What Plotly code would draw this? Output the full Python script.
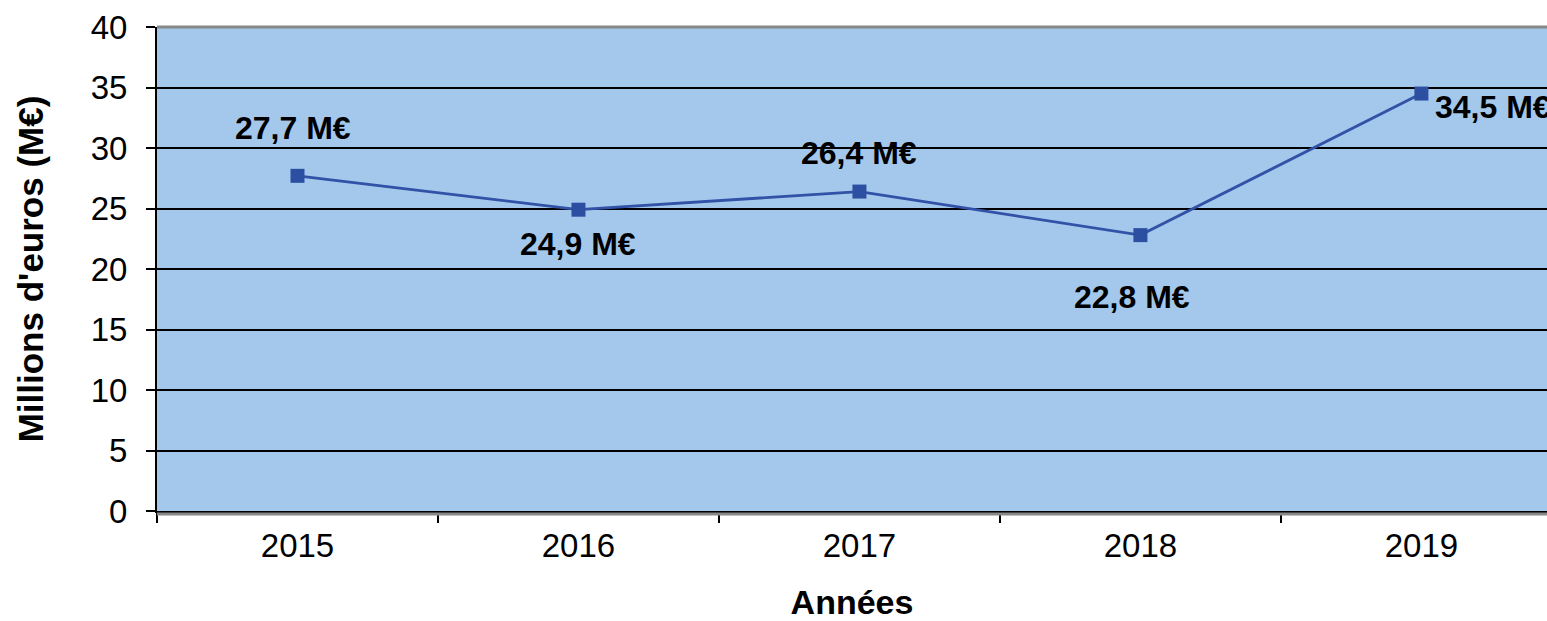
import plotly.graph_objects as go

years = ["2015", "2016", "2017", "2018", "2019"]
values = [27.7, 24.9, 26.4, 22.8, 34.5]
labels = ["27,7 M€", "24,9 M€", "26,4 M€", "22,8 M€", "34,5 M€"]
y_ticks = [0, 5, 10, 15, 20, 25, 30, 35, 40]

FONT = "Liberation Sans, Arial, sans-serif"
LINE_COLOR = "#3152A6"

fig = go.Figure()
fig.add_trace(go.Scatter(
    x=years, y=values, mode="lines+markers",
    line=dict(color=LINE_COLOR, width=2.8),
    marker=dict(symbol="square", size=14, color="#2C4FA2"),
    cliponaxis=False, showlegend=False,
))

# label placement (pixel offsets); x given as category index
shifts = [(-4, 48, "center"), (0, -34, "center"), (0, 39, "center"), (-8, -62, "center"), (12, -13, "left")]
annots = []
for i, (v, lab, (dx, dy, anc)) in enumerate(zip(values, labels, shifts)):
    annots.append(dict(x=i, y=v, xref="x", yref="y", text="<b>" + lab + "</b>", showarrow=False,
                       xanchor=anc, yanchor="middle", xshift=dx, yshift=dy,
                       font=dict(family=FONT, size=32, color="black")))

shapes = [
    dict(type="line", xref="paper", yref="paper", x0=0, x1=1, y0=1, y1=1,
         line=dict(color="#888888", width=3), layer="above"),
    dict(type="line", xref="paper", yref="paper", x0=0, x1=1, y0=-0.006, y1=-0.006,
         line=dict(color="#888888", width=3), layer="above"),
]

fig.update_layout(
    width=1547, height=621,
    margin=dict(l=157, r=0, t=27, b=110, autoexpand=False),
    paper_bgcolor="white", plot_bgcolor="#A3C8EB",
    font=dict(family=FONT, color="black"),
    annotations=annots, shapes=shapes,
    xaxis=dict(
        type="category", range=[-0.5, 4.447],
        tickson="boundaries", ticks="outside", ticklen=10, tickwidth=2, tickcolor="black",
        showgrid=False, showline=True, linecolor="black", linewidth=2,
        tickfont=dict(size=33, family=FONT), ticklabelstandoff=4,
        title=dict(text="<b>Années</b>", font=dict(size=34, family=FONT), standoff=30),
    ),
    yaxis=dict(
        range=[0, 40], tickvals=y_ticks, ticks="outside", ticklen=9, tickwidth=2, tickcolor="black",
        showgrid=True, gridcolor="black", gridwidth=1.5,
        showline=True, linecolor="black", linewidth=2, zeroline=False,
        tickfont=dict(size=33, family=FONT), ticklabelstandoff=12, ticklabeloverflow="allow",
        title=dict(text="<b>Millions d'euros (M€)</b>", font=dict(size=35, family=FONT), standoff=36),
    ),
)

fig.write_html(
    "out.html",
    config={"displayModeBar": False},
    post_script="document.body.style.margin='0';document.body.style.overflow='hidden';",
)
